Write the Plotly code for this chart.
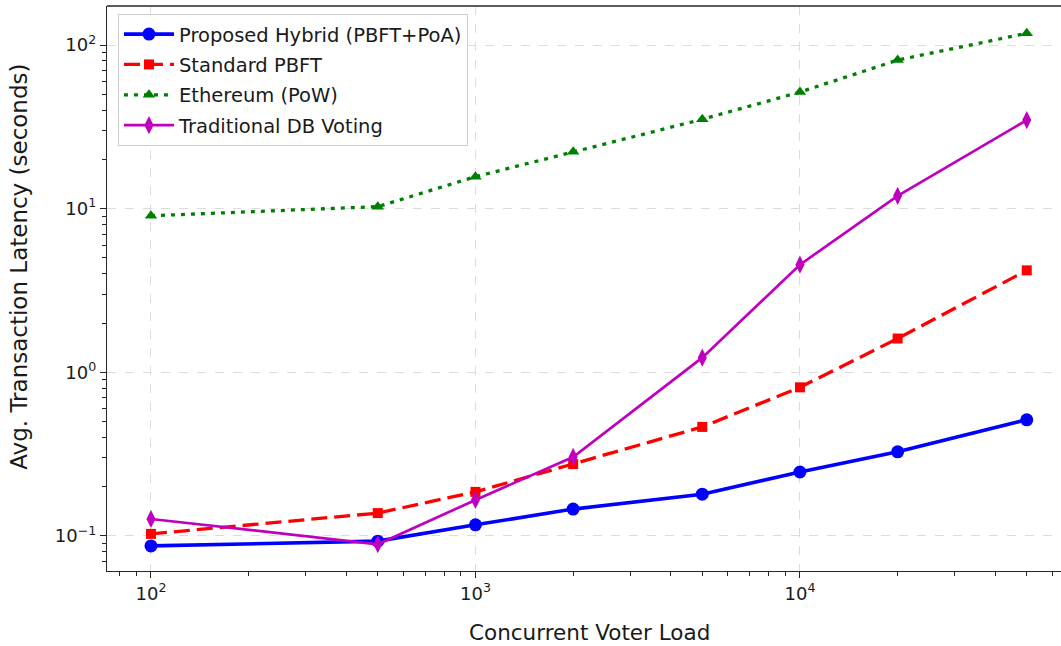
import plotly.graph_objects as go

voter_load = [100, 500, 1000, 2000, 5000, 10000, 20000, 50000]
hybrid = [0.087, 0.093, 0.117, 0.146, 0.180, 0.246, 0.327, 0.513]
pbft = [0.103, 0.138, 0.186, 0.275, 0.464, 0.81, 1.61, 4.2]
ethereum = [9.06, 10.3, 15.7, 22.3, 35.2, 51.6, 81.0, 118.0]
db_voting = [0.127, 0.089, 0.166, 0.304, 1.23, 4.55, 12.0, 34.8]

x_tickvals = [100, 1000, 10000]
x_ticktext = ["10<sup>2</sup>", "10<sup>3</sup>", "10<sup>4</sup>"]
y_tickvals = [0.1, 1, 10, 100]
y_ticktext = ["10<sup>\u22121</sup>", "10<sup>0</sup>", "10<sup>1</sup>", "10<sup>2</sup>"]

x_title = "Concurrent Voter Load"
y_title = "Avg. Transaction Latency (seconds)"

FONT = "DejaVu Sans"

fig = go.Figure()
fig.add_trace(go.Scatter(x=voter_load, y=hybrid, mode="lines+markers",
                         name="Proposed Hybrid (PBFT+PoA)", legendgroup="a",
                         line=dict(color="#0000ff", width=3.6),
                         marker=dict(symbol="circle", size=13, color="#0000ff")))
fig.add_trace(go.Scatter(x=voter_load, y=pbft, mode="lines+markers",
                         name="Standard PBFT", legendgroup="b",
                         line=dict(color="#ff0000", width=3.3, dash="16px,7px"),
                         marker=dict(symbol="square", size=10, color="#ff0000")))
fig.add_trace(go.Scatter(x=voter_load, y=ethereum, mode="lines+markers",
                         name="Ethereum (PoW)", legendgroup="c",
                         line=dict(color="#008000", width=3.3, dash="4px,6px"),
                         marker=dict(symbol="triangle-up", size=11, color="#008000")))
fig.add_trace(go.Scatter(x=voter_load, y=db_voting, mode="lines+markers",
                         name="Traditional DB Voting", legendgroup="d",
                         line=dict(color="#bf00bf", width=2.7),
                         marker=dict(symbol="diamond-tall", size=13, color="#bf00bf")))

axis_common = dict(
    type="log",
    showline=True, linecolor="#262626", linewidth=1.3,
    ticks="outside", ticklen=6, tickwidth=1.2, tickcolor="#262626",
    showgrid=True, gridcolor="#dcdcdc", griddash="dash", gridwidth=1,
    zeroline=False,
    tickfont=dict(family=FONT, size=18, color="#1a1a1a"),
    minor=dict(ticks="outside", ticklen=3.5, tickwidth=1, tickcolor="#262626",
               dtick="D1", showgrid=False),
)

fig.update_layout(
    width=1061, height=646,
    margin=dict(l=107, r=0, t=6, b=75),
    paper_bgcolor="white", plot_bgcolor="white",
    font=dict(family=FONT, size=16, color="#1a1a1a"),
    xaxis=dict(axis_common, range=[1.8645, 4.8045],
               tickvals=x_tickvals, ticktext=x_ticktext),
    yaxis=dict(axis_common, range=[-1.214, 2.239],
               tickvals=y_tickvals, ticktext=y_ticktext),
    legend=dict(x=0.0115, y=0.986, xanchor="left", yanchor="top",
                bgcolor="rgba(255,255,255,0.85)", bordercolor="#cccccc", borderwidth=1,
                font=dict(family=FONT, size=19.5), tracegroupgap=2, itemwidth=50),
    showlegend=True,
)

# axis titles
fig.add_annotation(text=x_title, xref="paper", yref="paper", x=0.5058, y=-0.108,
                   xanchor="center", yanchor="middle", showarrow=False,
                   font=dict(family=FONT, size=21.5, color="#1a1a1a"))
fig.add_annotation(text=y_title, xref="paper", yref="paper", x=-0.0925, y=0.538,
                   xanchor="center", yanchor="middle", showarrow=False, textangle=-90,
                   font=dict(family=FONT, size=23, color="#1a1a1a"))

# top spine
fig.add_shape(type="line", xref="paper", yref="paper", x0=0, x1=1, y0=1, y1=1,
              line=dict(color="#262626", width=1.3))

fig.write_html("out.html")
